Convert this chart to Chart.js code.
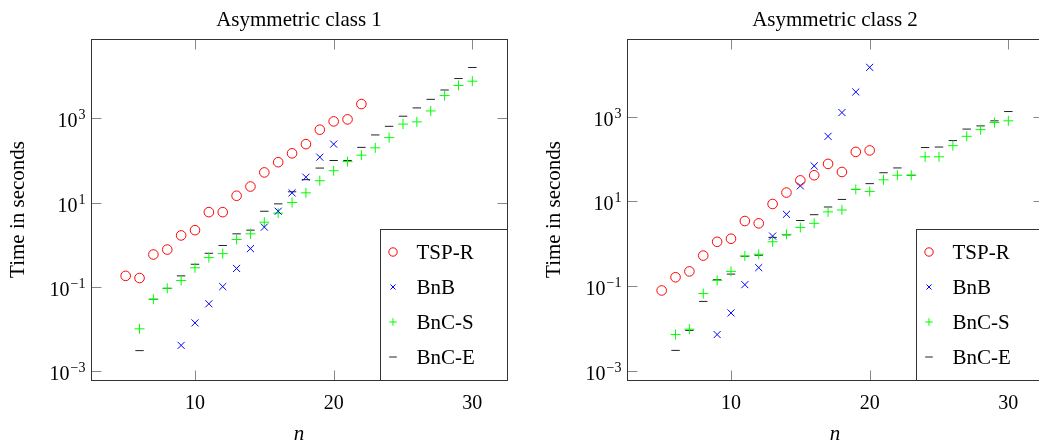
<!DOCTYPE html>
<html>
<head>
<meta charset="utf-8">
<script src="https://cdn.jsdelivr.net/npm/chart.js@4.4.0/dist/chart.umd.min.js"></script>
<style>
  html, body { margin: 0; padding: 0; background: #fff; overflow: hidden; width: 1039px; height: 446px; }
  .panel { position: absolute; top: 0; width: 519px; height: 446px; }
  #panel1 { left: 0; }
  #panel2 { left: 536px; }
</style>
</head>
<body>
<div class="panel" id="panel1"><canvas id="chart1" width="519" height="446"></canvas></div>
<div class="panel" id="panel2"><canvas id="chart2" width="519" height="446"></canvas></div>
<script>
// n = 5 .. 30
const nValues = [5, 6, 7, 8, 9, 10, 11, 12, 13, 14, 15, 16, 17, 18, 19, 20, 21, 22, 23, 24, 25, 26, 27, 28, 29, 30];
const xTickValues = [10, 20, 30];
const yTickValues = [1e-3, 1e-1, 1e1, 1e3];
const yTickExponents = ["\u22123", "\u22121", "1", "3"];
const seriesNames = ["TSP-R", "BnB", "BnC-S", "BnC-E"];

// Asymmetric class 1 (time in seconds, aligned with nValues)
const tspR1 = [0.18, 0.16, 0.58, 0.76, 1.65, 2.2, 5.9, 5.9, 14.5, 24, 52, 91, 148, 245, 540, 850, 950, 2200,
  null, null, null, null, null, null, null, null];
const bnb1 = [null, null, null, null, 0.004, 0.0137, 0.039, 0.10, 0.27, 0.80, 2.6, 6.2, 17, 40, 120, 245,
  null, null, null, null, null, null, null, null, null, null];
const bncS1 = [null, 0.0099, 0.05, 0.091, 0.14, 0.28, 0.49, 0.61, 1.32, 1.8, 3.4, 5.6, 10, 17, 33, 57, 94, 134,
  200, 350, 735, 830, 1510, 3500, 6100, 7700];
const bncE1 = [null, 0.003, 0.05, 0.091, 0.18, 0.34, 0.62, 0.95, 1.8, 2.2, 6.2, 9.3, 18, 35, 66, 100, 100, 205,
  405, 650, 1130, 1780, 2850, 4750, 8900, 16300];

// Asymmetric class 2
const tspR2 = [0.078, 0.16, 0.22, 0.52, 1.1, 1.3, 3.4, 3.0, 8.6, 16, 31, 41, 76, 49, 146, 158,
  null, null, null, null, null, null, null, null, null, null];
const bnb2 = [null, null, null, null, 0.0071, 0.023, 0.107, 0.27, 1.5, 4.9, 23, 68, 340, 1240, 3800, 14500,
  null, null, null, null, null, null, null, null, null, null];
const bncS2 = [null, 0.0071, 0.0095, 0.066, 0.135, 0.22, 0.51, 0.56, 1.1, 1.65, 2.4, 3.0, 5.6, 6.2, 19, 17, 32, 41,
  41, 112, 112, 205, 340, 490, 720, 790];
const bncE2 = [null, 0.003, 0.0089, 0.043, 0.14, 0.19, 0.50, 0.53, 1.4, 1.6, 3.5, 4.8, 7.3, 11, 19, 26, 47, 61,
  41, 185, 190, 270, 505, 600, 790, 1310];

const markerStyles = [
  { pointStyle: "circle", color: "#ff0000", radius: 4.8, legendRadius: 4.2 },
  { pointStyle: "crossRot", color: "#0000ff", radius: 5, legendRadius: 3.6 },
  { pointStyle: "cross", color: "#00ff00", radius: 5, legendRadius: 3.8 },
  { pointStyle: "line", color: "#222222", radius: 4.2, legendRadius: 3.8 }
];

const FONT = "'Liberation Serif', 'DejaVu Serif', serif";

function toPoints(values) {
  const pts = [];
  values.forEach((v, i) => {
    if (v !== null) pts.push({ x: nValues[i], y: v });
  });
  return pts;
}

function drawMarker(ctx, style, x, y, r) {
  ctx.save();
  ctx.strokeStyle = style.color;
  ctx.lineWidth = 1;
  ctx.beginPath();
  if (style.pointStyle === "circle") {
    ctx.arc(x, y, r, 0, Math.PI * 2);
  } else if (style.pointStyle === "crossRot") {
    const d = r * Math.SQRT1_2;
    ctx.moveTo(x - d, y - d); ctx.lineTo(x + d, y + d);
    ctx.moveTo(x - d, y + d); ctx.lineTo(x + d, y - d);
  } else if (style.pointStyle === "cross") {
    ctx.moveTo(x - r, y); ctx.lineTo(x + r, y);
    ctx.moveTo(x, y - r); ctx.lineTo(x, y + r);
  } else {
    ctx.moveTo(x - r, y); ctx.lineTo(x + r, y);
  }
  ctx.stroke();
  ctx.restore();
}

// frame, inward ticks, labels and legend in pgfplots style
const framePlugin = {
  id: "frame",
  afterDatasetsDraw(chart, args, opts) {
    const ctx = chart.ctx;
    const a = chart.chartArea;
    const xs = chart.scales.x, ys = chart.scales.y;
    const L = Math.round(a.left) + 0.5, R = Math.round(a.right) + 0.5;
    const T = Math.round(a.top) + 0.5, B = Math.round(a.bottom) + 0.5;
    ctx.save();

    // tick marks
    ctx.strokeStyle = "#888";
    ctx.lineWidth = 1;
    ctx.beginPath();
    xTickValues.forEach(v => {
      const px = Math.round(xs.getPixelForValue(v)) + 0.5;
      ctx.moveTo(px, B); ctx.lineTo(px, B - 10);
      ctx.moveTo(px, T); ctx.lineTo(px, T + 10);
    });
    yTickValues.forEach(v => {
      const py = Math.round(ys.getPixelForValue(v)) + 0.5;
      ctx.moveTo(L, py); ctx.lineTo(L + 10, py);
      ctx.moveTo(R, py); ctx.lineTo(R - 10, py);
    });
    ctx.stroke();

    // frame
    ctx.strokeStyle = "#333";
    ctx.strokeRect(L, T, R - L, B - T);

    // x tick labels
    ctx.fillStyle = "#000";
    ctx.font = "20px " + FONT;
    ctx.textAlign = "center";
    ctx.textBaseline = "alphabetic";
    xTickValues.forEach(v => {
      ctx.fillText(String(v), xs.getPixelForValue(v), B + 28);
    });

    // y tick labels 10^k
    yTickValues.forEach((v, i) => {
      const py = ys.getPixelForValue(v);
      ctx.font = "14px " + FONT;
      const supW = ctx.measureText(yTickExponents[i]).width;
      ctx.textAlign = "right";
      ctx.fillText(yTickExponents[i], L - 6, py + 1);
      ctx.font = "20px " + FONT;
      ctx.fillText("10", L - 7 - supW, py + 9);
    });

    // titles
    const cx = (a.left + a.right) / 2;
    ctx.textAlign = "center";
    ctx.font = "21px " + FONT;
    ctx.fillText(opts.title, cx, 26);
    ctx.font = "italic 21px " + FONT;
    ctx.fillText("n", cx, 440);
    ctx.save();
    ctx.translate(24, (a.top + a.bottom) / 2);
    ctx.rotate(-Math.PI / 2);
    ctx.font = "21px " + FONT;
    ctx.fillText("Time in seconds", 0, 0);
    ctx.restore();

    // legend in the south east corner
    const lw = 127, lh = 151;
    const lx = Math.round(a.right) - lw + 0.5, ly = B - lh;
    ctx.fillStyle = "#fff";
    ctx.fillRect(lx, ly, lw, lh);
    ctx.strokeStyle = "#333";
    ctx.strokeRect(lx, ly, lw, lh);
    ctx.fillStyle = "#000";
    ctx.font = "21px " + FONT;
    ctx.textAlign = "left";
    ctx.textBaseline = "middle";
    chart.data.datasets.forEach((ds, i) => {
      const rowY = ly + 22.5 + i * 35;
      drawMarker(ctx, markerStyles[i], lx + 12.5, rowY, markerStyles[i].legendRadius);
      ctx.fillText(ds.label, lx + 36, rowY + 1);
    });
    ctx.restore();
  }
};

function makeChart(canvasId, title, seriesValues, yMax) {
  const datasets = seriesValues.map((vals, i) => ({
    label: seriesNames[i],
    data: toPoints(vals),
    showLine: false,
    pointStyle: markerStyles[i].pointStyle,
    pointRadius: markerStyles[i].radius,
    pointBorderWidth: 1,
    pointBorderColor: markerStyles[i].color,
    pointBackgroundColor: "rgba(0,0,0,0)"
  }));
  return new Chart(document.getElementById(canvasId), {
    type: "scatter",
    data: { datasets: datasets },
    options: {
      responsive: false,
      animation: false,
      events: [],
      layout: { padding: { left: 91, right: 12, top: 39, bottom: 66 } },
      scales: {
        x: { type: "linear", min: 2.5, max: 32.5, display: false },
        y: { type: "logarithmic", min: Math.pow(10, -3.19), max: yMax, display: false }
      },
      plugins: {
        legend: { display: false },
        tooltip: { enabled: false },
        frame: { title: title }
      }
    },
    plugins: [framePlugin]
  });
}

makeChart("chart1", "Asymmetric class 1", [tspR1, bnb1, bncS1, bncE1], Math.pow(10, 4.89));
makeChart("chart2", "Asymmetric class 2", [tspR2, bnb2, bncS2, bncE2], Math.pow(10, 4.83));
</script>
</body>
</html>
